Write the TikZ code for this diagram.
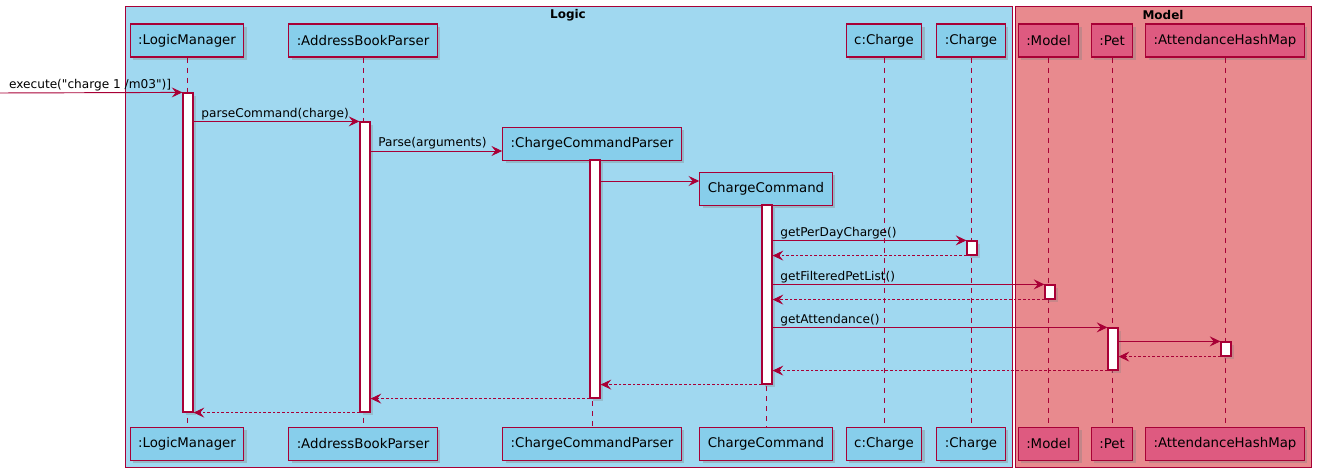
\documentclass[tikz,border=0pt]{standalone}
\usepackage{fontspec}
\setmainfont{DejaVu Sans}
\usetikzlibrary{arrows.meta,shadows,fit,positioning}
\definecolor{logicbg}{RGB}{160,216,240}
\definecolor{modelbg}{RGB}{232,138,142}
\definecolor{partblue}{RGB}{135,206,235}
\definecolor{partpink}{RGB}{222,90,128}
\definecolor{umlred}{RGB}{168,0,54}

\begin{document}
\begin{tikzpicture}[x=0.75pt,y=-0.75pt,% one unit is one pixel, y runs down
      every node/.style={font=\fontsize{10}{12}\selectfont},
      part/.style={rectangle,draw=umlred,line width=0.9pt,fill=partblue,
        minimum height=24.75pt,inner xsep=6pt,
        drop shadow={shadow xshift=2.2pt,shadow yshift=-2.2pt,opacity=0.35}},
      partM/.style={part,fill=partpink},
      act/.style={rectangle,draw=umlred,line width=0.9pt,fill=white,inner sep=0pt,
        drop shadow={shadow xshift=2pt,shadow yshift=-2pt,opacity=0.3}},
      lifeline/.style={draw=umlred,line width=0.6pt,dash pattern=on 3.75pt off 3.75pt},
      msg/.style={draw=umlred,line width=0.7pt,-{Stealth[length=8pt,width=7.5pt,inset=3pt]}},
      ret/.style={msg,dash pattern=on 2pt off 1.5pt},
      lbl/.style={font=\fontsize{9.1}{11}\selectfont,anchor=south west,inner sep=1pt,xshift=4.5pt},
      frame/.style={draw=umlred,line width=0.6pt},
      title/.style={font=\fontsize{9}{11}\selectfont\bfseries}
    ]
    \useasboundingbox (0,0) rectangle (1317,473);
    % the two packages
    \draw[frame,fill=logicbg] (125,6) rectangle (1012,467);
    \draw[frame,fill=modelbg] (1015,6) rectangle (1311,467);
    \node[title] (logicTitle) at (568,15) {Logic};
    \node[title] (modelTitle) at (1163,15) {Model};
    % participants, top and bottom
    \node[part] (lm-top) at (187,40.5) {:LogicManager};
    \node[part] (abp-top) at (363,40.5) {:AddressBookParser};
    \node[part] (ccp-top) at (592,144) {:ChargeCommandParser};
    \node[part] (cc-top) at (766,189) {ChargeCommand};
    \node[part] (c-top) at (884,40.5) {c:Charge};
    \node[part] (ch-top) at (971,40.5) {:Charge};
    \node[partM] (m-top) at (1048.5,40.5) {:Model};
    \node[partM] (p-top) at (1112,40.5) {:Pet};
    \node[partM] (ah-top) at (1225,40.5) {:AttendanceHashMap};
    \node[part] (lm-bot) at (187,444) {:LogicManager};
    \node[part] (abp-bot) at (363,444) {:AddressBookParser};
    \node[part] (ccp-bot) at (592,444) {:ChargeCommandParser};
    \node[part] (cc-bot) at (766,444) {ChargeCommand};
    \node[part] (c-bot) at (884,444) {c:Charge};
    \node[part] (ch-bot) at (971,444) {:Charge};
    \node[partM] (m-bot) at (1048.5,444) {:Model};
    \node[partM] (p-bot) at (1112,444) {:Pet};
    \node[partM] (ah-bot) at (1225,444) {:AttendanceHashMap};
    \foreach \p in {lm,abp,ccp,cc,c,ch,m,p,ah}
      \draw[lifeline] (\p-top.south) -- (\p-bot.north);
    % activation bars
    \node[act,fit={(183,93) (193,412)}] (aLM) {};
    \node[act,fit={(360,122) (370,412)}] (aABP) {};
    \node[act,fit={(590,160) (600,398)}] (aCCP) {};
    \node[act,fit={(762,205) (772,384)}] (aCC) {};
    \node[act,fit={(967,241) (977,255)}] (aCh) {};
    \node[act,fit={(1045,285) (1055,299)}] (aM) {};
    \node[act,fit={(1108,328) (1118,370)}] (aP) {};
    \node[act,fit={(1221,342) (1231,356)}] (aAH) {};
    % messages
    \coordinate (entry) at (0,93);
    \draw[msg] (entry) -- node[lbl,at start,xshift=1pt] {execute(\textquotedbl charge 1 /m03\textquotedbl)]} (aLM.north west);
    \draw[msg] (aLM.east |- aABP.north) -- node[lbl,at start] {parseCommand(charge)} (aABP.north west);
    \draw[msg] (aABP.east |- 0,151) -- node[lbl,at start] {Parse(arguments)} (ccp-top.west |- 0,151);
    \draw[msg] (aCCP.east |- 0,181) -- (cc-top.west |- 0,181);
    \draw[msg] (aCC.east |- aCh.north) -- node[lbl,at start] {getPerDayCharge()} (aCh.north west);
    \draw[ret] (aCh.south west) -- (aCC.east |- aCh.south);
    \draw[msg] (aCC.east |- aM.north) -- node[lbl,at start] {getFilteredPetList()} (aM.north west);
    \draw[ret] (aM.south west) -- (aCC.east |- aM.south);
    \draw[msg] (aCC.east |- aP.north) -- node[lbl,at start] {getAttendance()} (aP.north west);
    \draw[msg] (aP.east |- aAH.north) -- (aAH.north west);
    \draw[ret] (aAH.south west) -- (aP.east |- aAH.south);
    \draw[ret] (aP.south west) -- (aCC.east |- aP.south);
    \draw[ret] (aCC.south west) -- (aCCP.east |- aCC.south);
    \draw[ret] (aCCP.south west) -- (aABP.east |- aCCP.south);
    \draw[ret] (aABP.south west) -- (aLM.east |- aABP.south);
  \end{tikzpicture}
\end{document}
